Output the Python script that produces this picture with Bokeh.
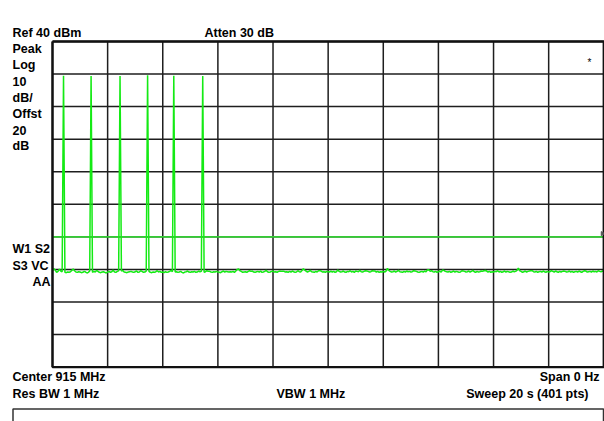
from bokeh.plotting import figure
from bokeh.models import Range1d
from bokeh.core.properties import value
from bokeh.embed import file_html
from bokeh.resources import INLINE

# ---------------- data ----------------
sweep_s = 20.0
n_pts = 401
ref_dbm = 40
db_per_div = 10
display_line_dbm = -20

noise_dbm = [
    -30.4, -29.8, -30.2, -30.9, -30.6, -29.9, -30.5, -30.7, -30.6, -30.9, -31.0, -30.8, -30.9, -30.7, -30.3, -29.9, -30.4, -30.8, -30.9, -30.7,
    -30.8, -31.0, -30.9, -30.6, -30.8, -31.1, -30.9, -30.5, -30.7, -30.9, -30.6, -30.8, -30.3, -30.6, -30.9, -31.0, -30.8, -30.7, -30.9, -31.1,
    -30.8, -30.6, -30.9, -30.7, -30.2, -30.8, -30.9, -30.6, -30.4, -30.7, -30.5, -30.3, -30.8, -30.9, -31.0, -30.8, -30.7, -30.6, -30.8, -30.9,
    -30.7, -30.5, -30.9, -30.8, -30.4, -30.6, -30.9, -30.8, -30.5, -30.7, -30.6, -30.9, -31.0, -30.8, -30.9, -30.7, -30.4, -30.8, -30.6, -30.9,
    -30.8, -31.0, -30.7, -30.9, -30.8, -30.6, -30.3, -30.7, -30.5, -30.8, -30.7, -30.9, -30.8, -30.6, -30.9, -31.1, -30.8, -30.7, -30.5, -30.8,
    -30.9, -30.7, -30.8, -30.6, -30.9, -30.8, -30.5, -30.7, -30.6, -30.8, -30.9, -30.7, -30.4, -30.6, -30.6, -30.8, -30.9, -30.7, -30.8, -30.6,
    -30.8, -30.9, -31.0, -30.7, -30.5, -30.8, -30.6, -30.7, -30.8, -30.7, -30.8, -30.6, -30.9, -30.5, -30.0, -29.9, -30.4, -30.6, -30.9, -30.8,
    -30.7, -30.9, -30.6, -30.4, -30.6, -30.5, -30.8, -30.9, -30.7, -30.6, -30.8, -30.5, -30.9, -30.8, -30.6, -30.3, -30.7, -30.9, -30.8, -30.6,
    -30.5, -30.8, -30.7, -30.9, -30.6, -30.5, -30.6, -30.6, -30.6, -30.8, -30.7, -30.9, -30.6, -30.8, -30.5, -30.7, -30.9, -30.8, -30.4, -30.7,
    -30.8, -30.3, -29.8, -30.2, -30.5, -30.8, -30.6, -30.3, -30.7, -30.8, -30.9, -30.6, -30.8, -30.4, -30.4, -30.5, -30.8, -30.7, -30.9, -30.6,
    -30.7, -30.8, -30.5, -30.8, -30.6, -30.9, -30.7, -30.2, -30.6, -30.8, -30.7, -30.5, -30.8, -30.9, -30.6, -30.7, -30.4, -30.8, -30.6, -30.9,
    -30.5, -30.6, -30.7, -30.3, -30.7, -30.8, -30.6, -30.4, -30.5, -30.6, -30.8, -30.7, -30.4, -30.5, -30.5, -30.8, -30.6, -30.9, -30.7, -30.8,
    -30.6, -30.8, -30.5, -29.7, -30.3, -30.6, -30.8, -30.7, -30.5, -30.8, -30.6, -30.3, -30.7, -30.8, -30.9, -30.6, -30.8, -30.5, -30.7, -30.6,
    -30.8, -30.7, -30.4, -30.5, -30.6, -30.8, -30.9, -30.7, -30.6, -30.8, -30.5, -30.7, -30.2, -30.1, -30.6, -30.4, -30.7, -30.8, -30.6, -30.9,
    -30.7, -30.5, -30.8, -30.2, -30.3, -30.6, -30.7, -30.8, -30.6, -30.9, -30.7, -30.5, -30.8, -30.6, -30.7, -30.9, -30.8, -30.4, -30.5, -30.6,
    -30.8, -30.7, -30.5, -30.8, -30.6, -30.3, -30.7, -30.9, -30.6, -30.8, -30.7, -30.5, -30.6, -30.4, -30.3, -30.5, -30.8, -30.6, -30.9, -30.7,
    -30.8, -30.6, -30.7, -30.4, -30.8, -30.6, -30.9, -30.7, -30.5, -30.8, -30.6, -30.7, -30.9, -30.8, -30.5, -30.7, -30.6, -30.3, -29.6, -30.4,
    -30.6, -30.9, -30.7, -30.5, -30.8, -30.6, -30.5, -30.4, -30.4, -30.7, -30.8, -30.6, -30.9, -30.7, -30.6, -30.8, -30.5, -30.7, -30.9, -30.6,
    -30.8, -30.7, -30.4, -30.6, -30.8, -30.5, -30.7, -30.9, -30.6, -30.8, -30.6, -30.5, -30.6, -30.8, -30.7, -30.5, -30.8, -30.6, -30.9, -30.7,
    -30.6, -30.8, -30.5, -30.7, -30.9, -30.6, -30.4, -30.5, -30.8, -30.7, -30.6, -30.8, -30.5, -30.7, -30.6, -30.8, -30.4, -30.6, -30.7, -30.5,
    -30.6,
]

# burst peaks: trace point index and level (dBm)
peak_idx = [8, 28, 49, 69, 88, 109]
peak_dbm = [29.5, 29.4, 29.4, 29.6, 29.5, 29.4]

left_labels = ["Peak", "Log", "10", "dB/", "Offst", "20", "dB"]
state_labels = ["W1 S2", "S3 VC"]

# ---------------- build trace ----------------
trace_dbm = list(noise_dbm)
for i, v in zip(peak_idx, peak_dbm):
    trace_dbm[i] = v
time_s = [i * sweep_s / (n_pts - 1) for i in range(n_pts)]
y_bottom = ref_dbm - 10 * db_per_div

# ---------------- layout (pixels) ----------------
W, H = 604, 421
GL, GR, GT, GB = 52, 603.3, 41, 366.6          # graticule box
px_s = (GR - GL) / sweep_s
px_db = (GB - GT) / (ref_dbm - y_bottom)


def dx(px):
    return (px - GL) / px_s


def dy(py):
    return ref_dbm - (py - GT) / px_db


FONT = "Liberation Sans"

p = figure(width=W, height=H, output_backend="svg", toolbar_location=None,
           x_range=Range1d(dx(0), dx(W)), y_range=Range1d(dy(H), dy(0)),
           x_axis_location=None, y_axis_location=None, min_border=0)
p.grid.visible = False
p.outline_line_color = None
p.background_fill_color = "white"
p.border_fill_color = "white"

# graticule
xt = [sweep_s * k / 10 for k in range(11)]
yt = list(range(y_bottom, ref_dbm + 1, db_per_div))
xs = [[t, t] for t in xt] + [[0, sweep_s] for _ in yt]
ys = [[y_bottom, ref_dbm] for _ in xt] + [[t, t] for t in yt]
p.multi_line(xs, ys, line_color="#1e1e1e", line_width=1.5)

# display line
p.line([0, sweep_s], [display_line_dbm, display_line_dbm], line_color="#33cc33", line_width=1.6)

# trace
p.line(time_s, trace_dbm, line_color="#14ea14", line_width=1.5)

# outline
p.line([0, sweep_s, sweep_s, 0, 0], [ref_dbm, ref_dbm, y_bottom, y_bottom, ref_dbm],
       line_color="#111111", line_width=2.4)

# display-line marker at right edge
p.scatter([sweep_s - 0.05], [display_line_dbm + 1.0], marker="triangle", size=4,
          color="#555555", angle=-1.5708)

# bottom message box (continues below the visible area)
p.quad(left=[dx(12.5)], right=[dx(603)], top=[dy(408.5)], bottom=[dy(440)],
       fill_alpha=0, line_color="#333333", line_width=1.5)


def texts(items, align="left", size="12.5px", style="bold"):
    p.text(x=[dx(a) for a, b, t in items], y=[dy(b) for a, b, t in items],
           text=[t for a, b, t in items], text_align=align, text_baseline="alphabetic",
           text_font=value(FONT), text_font_size=value(size), text_font_style=style,
           text_color="black")


left_items = [(12, 32.8, "Ref %d dBm" % ref_dbm), (204, 32.8, "Atten 30 dB")]
left_items += [(12, 48.5 + 16.2 * k, t) for k, t in enumerate(left_labels)]
left_items += [(12, 248.7, state_labels[0]), (12, 265.8, state_labels[1])]
left_items += [(12, 376, "Center 915 MHz"), (12, 393, "Res BW 1 MHz"), (276, 393, "VBW 1 MHz")]
texts(left_items)
texts([(50, 281.5, "AA"), (599, 376, "Span 0 Hz"),
       (588, 393, "Sweep %d s (%d pts)" % (sweep_s, n_pts))], align="right")
texts([(587, 62, "*")], align="left", size="10px", style="normal")

open("out.html", "w").write(file_html(p, INLINE))
